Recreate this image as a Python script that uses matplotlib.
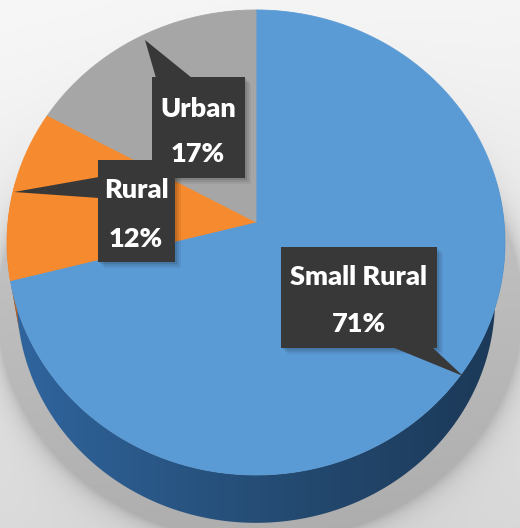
import numpy as np
import matplotlib
matplotlib.use("Agg")
import matplotlib.pyplot as plt
from matplotlib.patches import Polygon, Rectangle
from matplotlib.colors import LinearSegmentedColormap

# ---------------- data ----------------
categories = ["Small Rural", "Rural", "Urban"]
values = [71, 12, 17]

# ---------------- style ----------------
face_colors = ["#5B9BD5", "#F58A2E", "#A6A6A6"]
side_colors = ["#2B5D8E", "#B8621E", "#777777"]
box_color = "#393838"

W, H = 520, 528
fig = plt.figure(figsize=(W / 100, H / 100), dpi=100)
ax = fig.add_axes([0, 0, 1, 1])

# background with soft shadow under the pie
yy, xx = np.mgrid[0:H, 0:W] + 0.5
g = 0.968 - 0.11 * (yy / H) ** 1.3 - 0.01 * (xx / W)
rr = np.hypot((xx - 260) / 262.0, (yy - 310) / 232.0)
d = np.clip(rr - 1, 0, None)
g = g - 0.13 * np.exp(-d / 0.035) - 0.04 * np.exp(-d / 0.12)
bg = np.dstack([g, g, g]).clip(0, 1)
ax.imshow(bg, extent=(0, W, H, 0), zorder=0, interpolation="bilinear")

# pie geometry from matplotlib's pie
hax = fig.add_axes([0, 0, 0.1, 0.1])
wedges, _ = hax.pie(values, startangle=90, counterclock=False)
angles = [(w.theta1, w.theta2) for w in wedges]
fig.delaxes(hax)

# perspective projection of the top face
CX, CY, A, B, C = 256.0, 222.0, 230.7, 0.088, 248.0
S_B, CY_B = 0.96, 280.0


def top_xy(t_deg):
    t = np.radians(t_deg)
    u, v = np.cos(t), np.sin(t)
    s = 1 + B * v
    return CX + C * u / s, CY - A * v / s


def bot_xy(t_deg):
    x, y = top_xy(t_deg)
    return CX + S_B * (x - CX), CY_B + S_B * (y - CY)


# side (depth) of the pie
side_cmap = LinearSegmentedColormap.from_list(
    "side", ["#3066A0", "#254D75", "#1B3755"])
vis_lo, vis_hi = -190.0, 10.0
for i, (t1, t2) in enumerate(angles):
    a, b = max(t1, vis_lo), min(t2, vis_hi)
    if a >= b:
        continue
    ts = np.linspace(a, b, 300)
    xt, yt = top_xy(ts)
    xb, yb = bot_xy(ts[::-1])
    pts = np.column_stack([np.r_[xt, xb], np.r_[yt, yb]])
    if i == 0:
        poly = Polygon(pts, closed=True, facecolor="none", edgecolor="none")
        ax.add_patch(poly)
        grad = np.tile(np.linspace(0, 1, 256), (2, 1))
        im = ax.imshow(grad, extent=(0, W, H, 0), cmap=side_cmap,
                       zorder=2, interpolation="bilinear", aspect="auto")
        im.set_clip_path(poly)
    else:
        ax.add_patch(Polygon(pts, closed=True, facecolor=side_colors[i],
                             edgecolor="none", zorder=2))

# top face
for i, (t1, t2) in enumerate(angles):
    ts = np.linspace(t1, t2, 400)
    xt, yt = top_xy(ts)
    pts = np.column_stack([np.r_[CX, xt], np.r_[CY, yt]])
    ax.add_patch(Polygon(pts, closed=True, facecolor=face_colors[i],
                         edgecolor=face_colors[i], linewidth=0.6, zorder=3))

# ---------------- data labels (callouts) ----------------
total = float(sum(values))
layout = {
    "Urban": dict(box=(152, 77, 245, 178), tx=198, base=(117, 162),
                  ptr=[(145, 40), (156, 78), (192, 78)]),
    "Rural": dict(box=(98, 160, 175, 262), tx=136, base=(198, 247),
                  ptr=[(14, 192), (99, 177), (99, 198)]),
    "Small Rural": dict(box=(281, 247, 437, 348), tx=359, base=(285, 332),
                        ptr=[(392, 347), (432, 347), (463, 376)]),
}
font = ["Lato", "DejaVu Sans"]
for name in ["Urban", "Rural", "Small Rural"]:
    i = categories.index(name)
    L = layout[name]
    x0, y0, x1, y1 = L["box"]
    for k, al in enumerate([0.10, 0.08, 0.06]):
        off = 2 + 2 * k
        ax.add_patch(Rectangle((x0 + off, y0 + off), x1 - x0, y1 - y0,
                               facecolor="black", edgecolor="none",
                               alpha=al, zorder=5))
    ax.add_patch(Polygon(L["ptr"], closed=True, facecolor=box_color,
                         edgecolor="none", zorder=6))
    ax.add_patch(Rectangle((x0, y0), x1 - x0, y1 - y0, facecolor=box_color,
                           edgecolor="none", zorder=6))
    pct = values[i] / total * 100
    ax.text(L["tx"], L["base"][0], categories[i], ha="center", va="baseline",
            color="white", fontsize=19.5, fontweight="heavy", family=font,
            zorder=7)
    ax.text(L["tx"], L["base"][1], f"{pct:.0f}%", ha="center",
            va="baseline", color="white", fontsize=19.5, fontweight="heavy",
            family=font, zorder=7)

ax.set_xlim(0, W)
ax.set_ylim(H, 0)
ax.set_axis_off()
fig.savefig("out.png", dpi=100)
